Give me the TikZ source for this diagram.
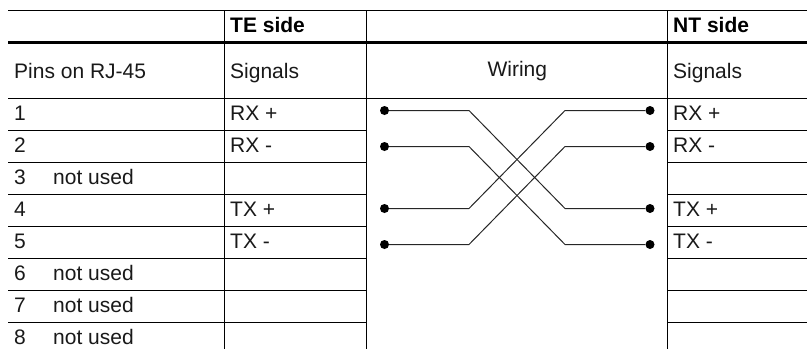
\documentclass[tikz,border=0pt]{standalone}
\usepackage{fontspec}
\setmainfont{Liberation Sans}
\begin{document}
\begin{tikzpicture}[x=1pt,y=-1pt,
  rule/.style={draw=black,line width=1pt},
  heavy/.style={draw=black,line width=3pt},
  wire/.style={draw=black!85,line width=1pt},
  txt/.style={inner sep=0pt,anchor=base west,font=\fontsize{21}{21}\selectfont,text=black!90},
  head/.style={txt,font=\fontsize{21}{21}\selectfont\bfseries,text=black},
  ctr/.style={txt,anchor=base},
  pin/.style={circle,fill=black,inner sep=0pt,minimum size=9pt}]
\useasboundingbox (0,0) rectangle (807,349);
% rules
\draw[rule] (8,10.5) -- (807,10.5);
\draw[heavy] (8,42.5) -- (807,42.5);
\draw[rule] (8,98.5) -- (807,98.5);
\draw[rule] (8,130.5) -- (366.5,130.5);
\draw[rule] (667.5,130.5) -- (807,130.5);
\foreach \y in {162.5,194.5,226.5,258.5,290.5,322.5}{
  \draw[rule] (8,\y) -- (366.5,\y);
  \draw[rule] (667.5,\y) -- (807,\y);
}
\foreach \x in {224.5,366.5,667.5}{\draw[rule] (\x,10.5) -- (\x,349);}
% texts
\node[head] (te) at (230,32.5) {TE side};
\node[head] (nt) at (673,32.5) {NT side};
\node[txt] (pinshead) at (14,78) {Pins on RJ-45};
\node[txt] (sigl) at (230,78) {Signals};
\node[ctr] (wiring) at (517.3,76) {Wiring};
\node[txt] (sigr) at (673,78) {Signals};
\node[txt] (p1) at (14,120) {1};
\node[txt] (p2) at (14,152) {2};
\node[txt] (p3) at (14,184) {3};
\node[txt] (n3) at (53,184) {not used};
\node[txt] (p4) at (14,216) {4};
\node[txt] (p5) at (14,248) {5};
\node[txt] (p6) at (14,280) {6};
\node[txt] (n6) at (53,280) {not used};
\node[txt] (p7) at (14,312) {7};
\node[txt] (n7) at (53,312) {not used};
\node[txt] (p8) at (14,344) {8};
\node[txt] (n8) at (53,344) {not used};
\node[txt] (a1) at (230,120) {RX +};
\node[txt] (a2) at (230,152) {RX -};
\node[txt] (a4) at (230,216) {TX +};
\node[txt] (a5) at (230,248) {TX -};
\node[txt] (b1) at (673,120) {RX +};
\node[txt] (b2) at (673,152) {RX -};
\node[txt] (b4) at (673,216) {TX +};
\node[txt] (b5) at (673,248) {TX -};
% wiring
\node[pin] (l1) at (384.5,110.5) {};
\node[pin] (l2) at (384.5,146.5) {};
\node[pin] (l4) at (384.5,208.5) {};
\node[pin] (l5) at (384.5,244.5) {};
\node[pin] (r1) at (650,110.5) {};
\node[pin] (r2) at (650,146.5) {};
\node[pin] (r4) at (650,208.5) {};
\node[pin] (r5) at (650,244.5) {};
\draw[wire] (l1) -- (469,110.5) -- (565,208.5) -- (r4);
\draw[wire] (l2) -- (469,146.5) -- (565,244.5) -- (r5);
\draw[wire] (l4) -- (469,208.5) -- (565,110.5) -- (r1);
\draw[wire] (l5) -- (469,244.5) -- (565,146.5) -- (r2);
\end{tikzpicture}
\end{document}
